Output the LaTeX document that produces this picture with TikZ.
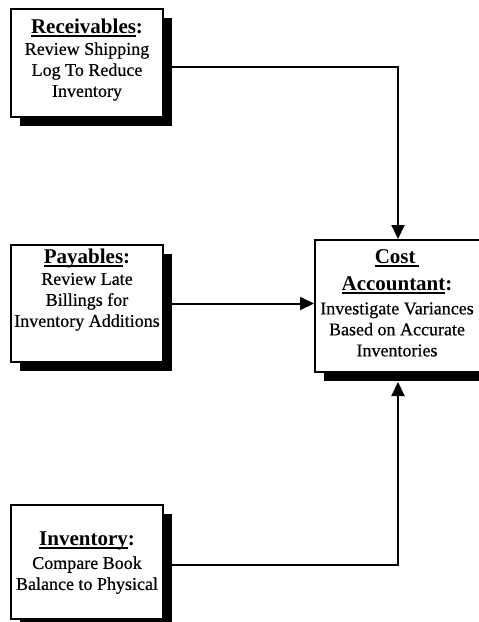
\documentclass[tikz,border=0pt]{standalone}
\usepackage{fontspec}
\setmainfont{Liberation Serif}
% slightly heavier face for the box texts
\newfontfamily\boxfont{Liberation Serif}[FakeBold=0.5]
\usetikzlibrary{arrows.meta,shadows,backgrounds}

% heavy underline for the box titles
\newsavebox\hdbox
\newcommand\headul[1]{\sbox\hdbox{#1}\rlap{\rule[-3.4pt]{\wd\hdbox}{1.9pt}}\usebox\hdbox}
\newcommand\headline[1]{{\fontsize{21}{21}\selectfont\normalfont\bfseries #1}}

\begin{document}
\begin{tikzpicture}[x=1pt,y=-1pt,
  panel/.style={rectangle, draw=black, line width=2pt, fill=white, inner sep=0pt,
    drop shadow={shadow xshift=9pt, shadow yshift=-9pt, fill=black, opacity=1}},
  caption/.style={align=center, inner sep=0pt, font=\boxfont\fontsize{18}{21}\selectfont},
  link/.style={line width=2pt, -{Triangle[length=14pt,width=13pt]}}]

\useasboundingbox (0,0) rectangle (479,622);

% department boxes
\node[panel, minimum width=152pt, minimum height=108pt] (rec) at (87,63) {};
\node[panel, minimum width=152pt, minimum height=117pt] (pay) at (87,303.5) {};
\node[panel, minimum width=152pt, minimum height=114pt] (inv) at (87,562) {};
\node[panel, minimum width=166pt, minimum height=132pt] (cost) at (398,306) {};

% box texts
\node[caption] (rectxt) at (87,60)
  {\headline{\headul{Receivables}:}\\Review Shipping\\Log To Reduce\\Inventory};
\node[caption] (paytxt) at (87,290)
  {\headline{\headul{Payables}:}\\Review Late\\Billings for\\Inventory Additions};
\node[caption] (invtxt) at (87,563)
  {\headline{\headul{Inventory}:}\\[2pt]Compare Book\\Balance to Physical};
\node[caption] (costtxt) at (397,303)
  {\headline{\headul{Cost\,}}\\[6pt]\headline{\headul{Accountant}:}\\[3pt]Investigate Variances\\Based on Accurate\\Inventories};

% connectors run underneath the boxes and their shadows
\coordinate (costbase) at ([yshift=-9pt]cost.south);
\begin{scope}[on background layer]
  \fill[white] (0,0) rectangle (479,622);
  \draw[link] ([yshift=-4pt]rec.east) -| (cost.north);
  \draw[link] (pay.east) -- (pay.east -| cost.west);
  \draw[link] ([yshift=-3pt]inv.east) -| (costbase);
\end{scope}
\end{tikzpicture}
\end{document}
